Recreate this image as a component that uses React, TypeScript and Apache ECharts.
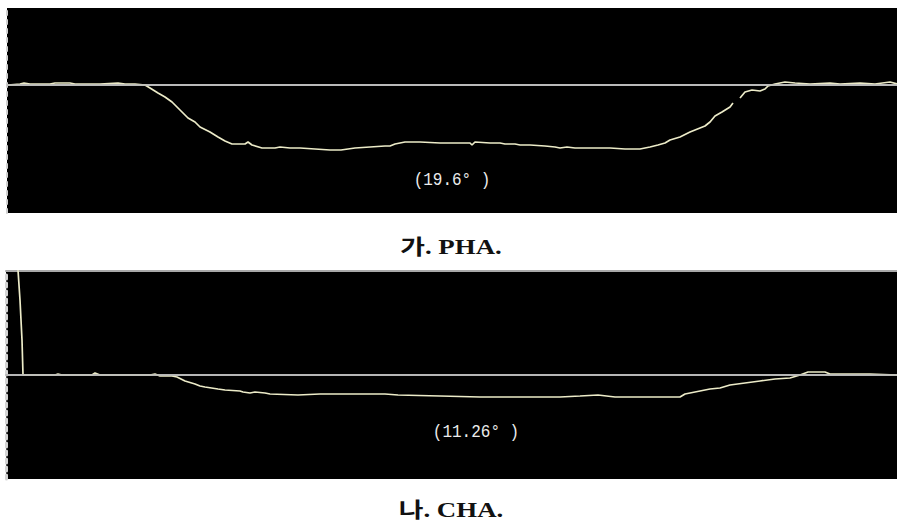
import React, { useEffect, useRef } from "react";
import * as echarts from "echarts";

// Panel 1 (PHA) profile: position along scan, height relative to baseline
const phaPos = [8, 20, 24, 30, 50, 55, 70, 75, 100, 118, 125, 135, 145, 150, 158, 165, 172, 180, 188, 195, 200, 210, 218, 225, 232, 245, 248, 252, 262, 275, 280, 290, 300, 315, 330, 341, 355, 370, 385, 390, 395, 405, 420, 440, 450, 470, 472, 475, 490, 500, 505, 515, 520, 530, 545, 555, 560, 567, 575, 600, 610, 625, 640, 650, 658, 665, 670, 680, 690, 700, 705, 710, 715, 722, 730, 733, 736, 740, 745, 752, 760, 765, 768, 775, 785, 795, 810, 830, 840, 860, 875, 890, 897];
const phaHeight: (number | null)[] = [0, 1, 2, 1, 1, 2, 2, 1, 1, 2, 1, 1, 0, -3, -8, -12, -17, -25, -33, -37, -42, -47, -52, -56, -59, -59, -57, -60, -63, -63, -62, -63, -63, -64, -65, -65, -63, -62, -61, -61, -59, -57, -57, -58, -58, -58, -60, -57, -58, -58, -59, -59, -60, -60, -61, -62, -63, -62, -63, -63, -63, -64, -64, -62, -60, -58, -55, -52, -47, -43, -41, -37, -31, -27, -22, -18, null, -13, -7, -5, -6, -4, -1, 1, 3, 2, 1, 2, 1, 2, 1, 3, 1];

// Panel 2 (CHA) profile
const chaPos = [17, 20, 22, 23, 30, 55, 58, 62, 92, 95, 100, 150, 155, 160, 172, 177, 185, 195, 200, 205, 218, 225, 240, 243, 250, 255, 265, 270, 298, 320, 345, 385, 398, 440, 480, 500, 560, 580, 598, 615, 680, 685, 700, 710, 720, 730, 745, 760, 775, 790, 800, 808, 825, 830, 850, 870, 897];
const chaHeight = [120, 75, 35, 0, 0, 0, 1, 0, 0, 2, 0, 0, 1, -1, -1, -2, -6, -9, -11, -12, -14, -15, -16, -17, -18, -17, -18, -19, -20, -19, -19, -19, -20, -21, -22, -22, -22, -21, -20, -22, -22, -19, -16, -14, -13, -10, -8, -6, -4, -3, 0, 3, 3, 1, 1, 1, 0];

const phaLabel = "(19.6° )";
const chaLabel = "(11.26° )";
const captions = ["가. PHA.", "나. CHA."];

const traceColor = "#ecebc8";
const refColor = "#b4b4b4";
const monoFont = "'Liberation Mono', 'DejaVu Sans Mono', monospace";
const capFont = "'Liberation Serif', 'Noto Sans CJK KR', serif";

export default function App() {
  const ref = useRef<HTMLDivElement>(null);
  useEffect(() => {
    document.body.style.margin = "0";
    const chart = echarts.init(ref.current!, null, { renderer: "svg" });
    const pha = phaPos.map((p, i) => [p, phaHeight[i]]);
    const cha = chaPos.map((p, i) => [p, chaHeight[i]]);
    const refLine = {
      silent: true,
      symbol: ["none", "none"],
      label: { show: false },
      lineStyle: { color: refColor, width: 1.5, type: "solid" },
      data: [{ yAxis: 0 }],
    };
    const hidden = { axisTick: { show: false }, axisLabel: { show: false }, splitLine: { show: false } };
    chart.setOption({
      animation: false,
      backgroundColor: "#fff",
      grid: [
        { left: 7, top: 8, width: 890, height: 205, show: true, backgroundColor: "#000", borderWidth: 0 },
        { left: 6, top: 271, width: 891, height: 208, show: true, backgroundColor: "#000", borderWidth: 0 },
      ],
      xAxis: [
        { gridIndex: 0, type: "value", min: 7, max: 897, axisLine: { show: true, lineStyle: { color: "#c8c8c8", width: 2 } }, ...hidden },
        { gridIndex: 1, type: "value", min: 6, max: 897, axisLine: { show: true, lineStyle: { color: "#bdbdbd", width: 2 } }, ...hidden },
        { gridIndex: 1, type: "value", min: 6, max: 897, position: "top", axisLine: { show: true, lineStyle: { color: "#a8a8a8", width: 2 } }, ...hidden },
      ],
      yAxis: [
        { gridIndex: 0, type: "value", min: -128, max: 77, axisLine: { show: true, lineStyle: { color: "#cfcfcf", width: 2, type: [4, 5] } }, ...hidden },
        { gridIndex: 1, type: "value", min: -104, max: 104, axisLine: { show: true, lineStyle: { color: "#d4d4d4", width: 3, type: [4, 4] } }, ...hidden },
      ],
      series: [
        {
          type: "line", xAxisIndex: 0, yAxisIndex: 0, data: pha, showSymbol: false,
          lineStyle: { color: traceColor, width: 1.7 }, connectNulls: false, clip: true,
          markLine: refLine, z: 3,
        },
        {
          type: "line", xAxisIndex: 1, yAxisIndex: 1, data: cha, showSymbol: false,
          lineStyle: { color: traceColor, width: 1.7 }, clip: true,
          markLine: refLine, z: 3,
        },
      ],
      graphic: [
        {
          type: "text", x: 452, y: 180, scaleY: 1.2,
          style: { text: phaLabel, fill: "#ececec", fontSize: 16, fontFamily: monoFont, align: "center", verticalAlign: "middle" },
        },
        {
          type: "text", x: 476, y: 432, scaleY: 1.2,
          style: { text: chaLabel, fill: "#ececec", fontSize: 16, fontFamily: monoFont, align: "center", verticalAlign: "middle" },
        },
        {
          type: "text", x: 451, y: 247, scaleX: 1.28,
          style: { text: captions[0], fill: "#111", fontSize: 21, fontWeight: "bold", fontFamily: capFont, align: "center", verticalAlign: "middle" },
        },
        {
          type: "text", x: 451, y: 510, scaleX: 1.28,
          style: { text: captions[1], fill: "#111", fontSize: 21, fontWeight: "bold", fontFamily: capFont, align: "center", verticalAlign: "middle" },
        },
      ],
    });
    return () => chart.dispose();
  }, []);
  return <div ref={ref} style={{ position: "fixed", left: 0, top: 0, width: 897, height: 526 }} />;
}
